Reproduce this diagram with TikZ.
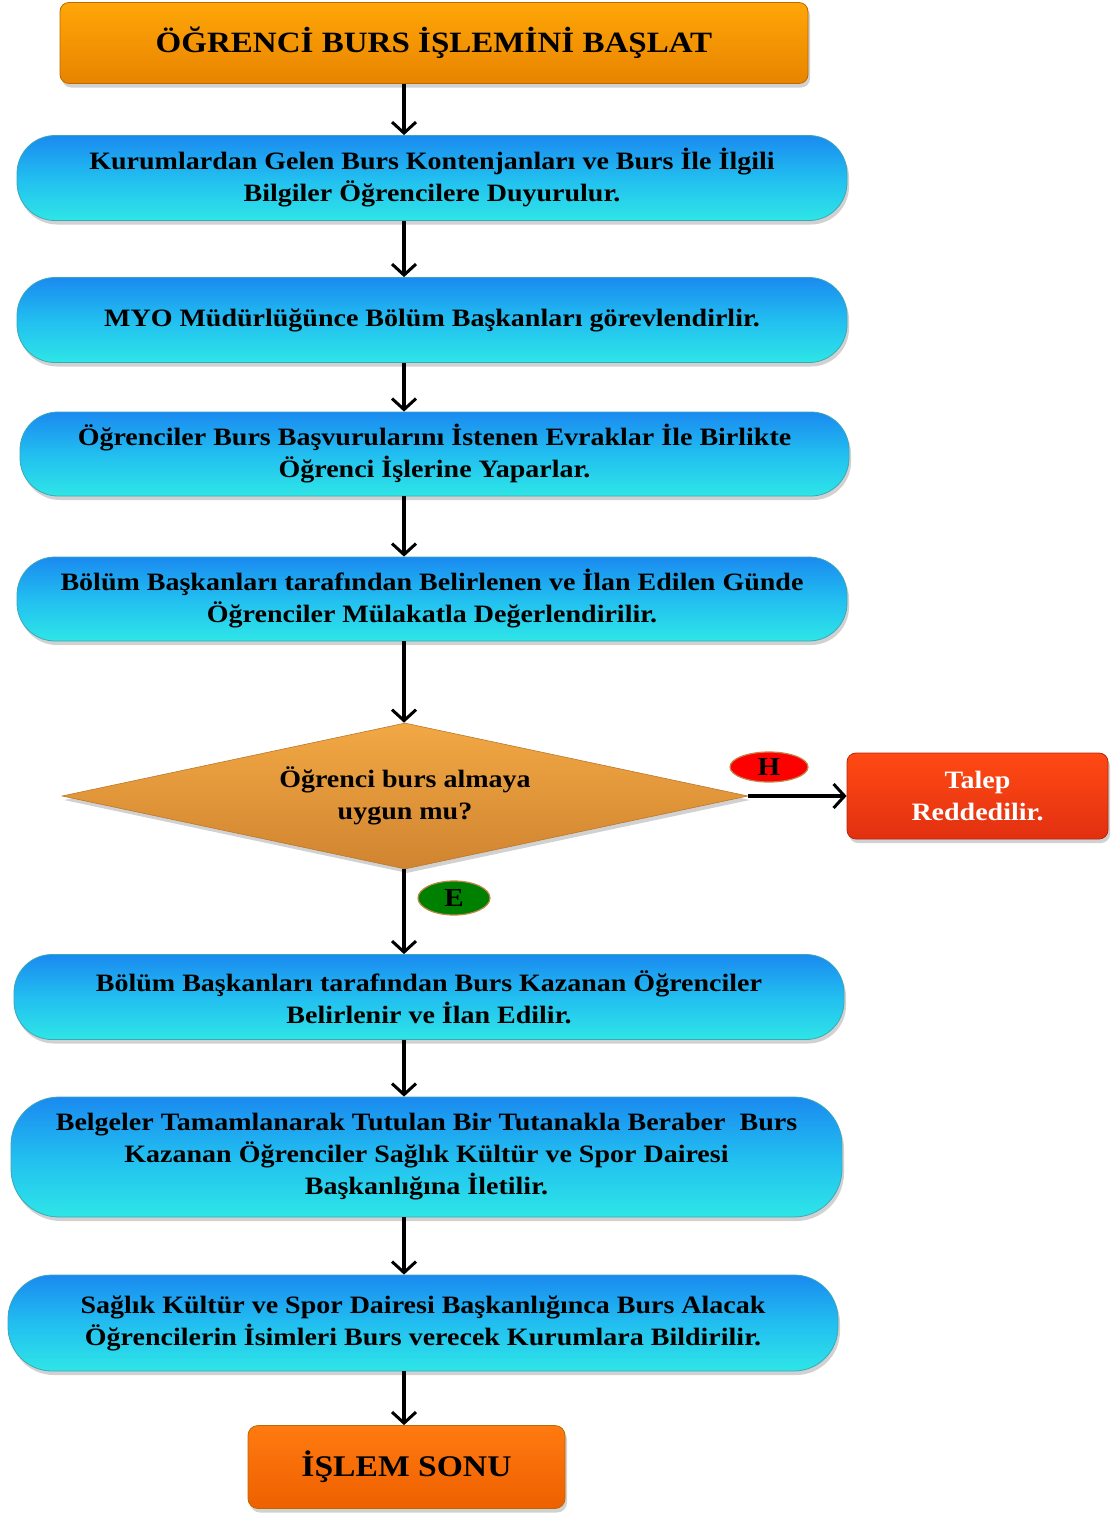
\documentclass[tikz,border=0pt]{standalone}
\usepackage{fontspec}
\setmainfont[FakeStretch=1.12]{Liberation Serif}
\usetikzlibrary{shapes.geometric,arrows.meta,shadows}
\definecolor{blueT}{HTML}{1A8AF0}
\definecolor{blueM}{HTML}{22BEF0}
\definecolor{cyanB}{HTML}{2EE6E6}
\definecolor{tealB}{HTML}{3AA8B8}
\definecolor{orT}{HTML}{FFA608}
\definecolor{orB}{HTML}{E88400}
\definecolor{endT}{HTML}{FF7A10}
\definecolor{endB}{HTML}{EE6000}
\definecolor{redT}{HTML}{FF4A14}
\definecolor{redB}{HTML}{E23010}
\definecolor{diaT}{HTML}{F2A844}
\definecolor{diaB}{HTML}{D08430}
\definecolor{ringC}{HTML}{C08848}
\begin{document}
\begin{tikzpicture}[x=1pt,y=-1pt,
  shad/.style={drop shadow={shadow xshift=2pt,shadow yshift=-4pt,opacity=0.3,fill=black!60}},
  pill/.style={shape=rectangle,rounded corners=38pt,minimum width=830pt,minimum height=85pt,
    top color=blueT,bottom color=cyanB,middle color=blueM,draw=tealB,line width=0.8pt,shad,
    align=center,inner sep=0pt,font=\fontsize{25}{32}\selectfont\bfseries},
  termbox/.style={shape=rectangle,rounded corners=9pt,draw=orB!80!black,line width=0.8pt,shad,
    align=center,inner sep=0pt},
  tag/.style={shape=ellipse,draw=ringC,line width=1.2pt,inner sep=0pt,
    font=\fontsize{26}{28}\selectfont\bfseries},
  arr/.style={line width=3.8pt,-{Straight Barb[length=11pt,width=24pt,line width=3pt]}}]
\useasboundingbox (0,0) rectangle (1115,1513);
\coordinate (ax) at (404,0);

\node[termbox,minimum width=748pt,minimum height=81pt,top color=orT,bottom color=orB,
  font=\fontsize{29.5}{34}\selectfont\bfseries] (start) at (434,43) {ÖĞRENCİ BURS İŞLEMİNİ BAŞLAT};

\node[pill] (b1) at (432,178) {Kurumlardan Gelen Burs Kontenjanları ve Burs İle İlgili\\Bilgiler Öğrencilere Duyurulur.};
\node[pill] (b2) at (432,320) {MYO Müdürlüğünce Bölüm Başkanları görevlendirlir.};
\node[pill,minimum width=829pt,minimum height=84pt] (b3) at (434.5,454) {Öğrenciler Burs Başvurularını İstenen Evraklar İle Birlikte\\Öğrenci İşlerine Yaparlar.};
\node[pill,minimum height=84pt] (b4) at (432,599) {Bölüm Başkanları tarafından Belirlenen ve İlan Edilen Günde\\Öğrenciler Mülakatla Değerlendirilir.};

\node[shape=diamond,minimum width=686pt,minimum height=146pt,inner sep=0pt,aspect=4.7,
  top color=diaT,bottom color=diaB,draw=diaB!90!black,line width=0.6pt,shad,align=center,
  font=\fontsize{25}{32}\selectfont\bfseries] (dia) at (405,796) {Öğrenci burs almaya\\uygun mu?};

\node[termbox,minimum width=261pt,minimum height=86pt,top color=redT,bottom color=redB,
  draw=redB!80!black,text=white,font=\fontsize{25}{32}\selectfont\bfseries] (rej) at (977.5,796) {Talep\\Reddedilir.};

\node[tag,fill=red,minimum width=78pt,minimum height=30pt] (h) at (769,767) {H};
\node[tag,fill=green!50!black,minimum width=72pt,minimum height=34pt] (e) at (454,898) {E};

\node[pill] (b5) at (429,997) {Bölüm Başkanları tarafından Burs Kazanan Öğrenciler\\Belirlenir ve İlan Edilir.};
\node[pill,minimum width=831pt,minimum height=120pt,rounded corners=48pt] (b6) at (426.5,1157) {Belgeler Tamamlanarak Tutulan Bir Tutanakla Beraber\ \ Burs\\Kazanan Öğrenciler Sağlık Kültür ve Spor Dairesi\\Başkanlığına İletilir.};
\node[pill,minimum height=96pt,rounded corners=44pt] (b7) at (423,1323) {Sağlık Kültür ve Spor Dairesi Başkanlığınca Burs Alacak\\Öğrencilerin İsimleri Burs verecek Kurumlara Bildirilir.};

\node[termbox,minimum width=317pt,minimum height=83pt,top color=endT,bottom color=endB,
  rounded corners=10pt,font=\fontsize{30}{34}\selectfont\bfseries] (end) at (406.5,1467) {İŞLEM SONU};

\draw[arr] (start.south -| ax) -- (b1.north -| ax);
\draw[arr] (b1.south -| ax) -- (b2.north -| ax);
\draw[arr] (b2.south -| ax) -- (b3.north -| ax);
\draw[arr] (b3.south -| ax) -- (b4.north -| ax);
\draw[arr] (b4.south -| ax) -- (dia.north -| ax);
\draw[arr] (dia.south -| ax) -- (b5.north -| ax);
\draw[arr] (dia.east) -- (rej.west);
\draw[arr] (b5.south -| ax) -- (b6.north -| ax);
\draw[arr] (b6.south -| ax) -- (b7.north -| ax);
\draw[arr] (b7.south -| ax) -- (end.north -| ax);
\end{tikzpicture}
\end{document}
